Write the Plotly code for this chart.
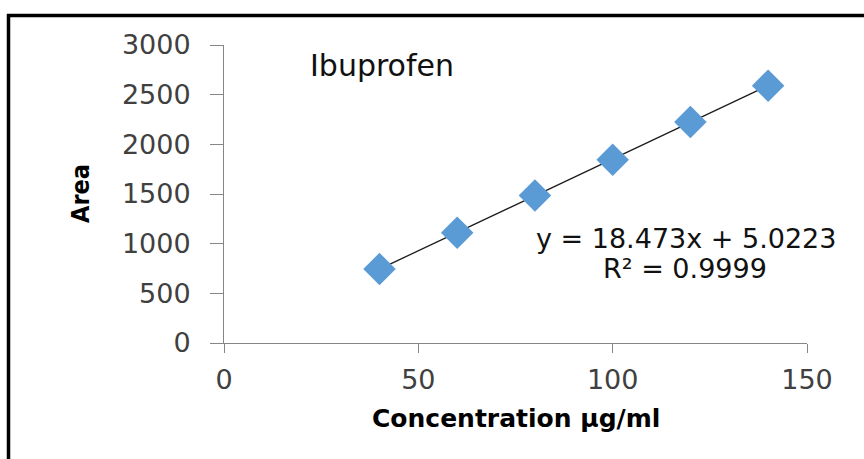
import plotly.graph_objects as go

# Data
concentration = [40, 60, 80, 100, 120, 140]
area = [745, 1110, 1485, 1845, 2225, 2590]
slope = 18.473
intercept = 5.0223
r_squared = 0.9999
x_ticks = [0, 50, 100, 150]
y_ticks = [0, 500, 1000, 1500, 2000, 2500, 3000]

W, H = 864, 459
L, R, T, B = 224, 57, 45, 116
pw, ph = W - L - R, H - T - B

def px(x):
    return (x - L) / pw

def py(y):
    return (H - B - y) / ph

fit_x = [min(concentration), max(concentration)]
fit_y = [slope * v + intercept for v in fit_x]

fig = go.Figure()
fig.add_trace(go.Scatter(x=fit_x, y=fit_y, mode="lines",
                         line=dict(color="#1a1a1a", width=1.3),
                         hoverinfo="skip", showlegend=False))
fig.add_trace(go.Scatter(x=concentration, y=area, mode="markers",
                         marker=dict(symbol="diamond", size=25, color="#5B9BD5",
                                     line=dict(width=0)),
                         showlegend=False))

axis_col = "#868686"
tick_font = dict(family="DejaVu Sans", size=27, color="#404040")
fig.update_xaxes(range=[0, 150], tickvals=x_ticks, showline=True, linecolor=axis_col,
                 linewidth=1, ticks="outside", ticklen=9, tickcolor=axis_col,
                 showgrid=False, zeroline=False, tickfont=tick_font,
                 ticklabelstandoff=4)
fig.update_yaxes(range=[0, 3000], tickvals=y_ticks, showline=True, linecolor=axis_col,
                 linewidth=1, ticks="outside", ticklen=13, tickcolor=axis_col,
                 showgrid=False, zeroline=False, tickfont=tick_font,
                 ticklabelstandoff=14)

anns = [
    dict(text="Ibuprofen", x=px(382), y=py(66), font=dict(family="DejaVu Sans", size=30, color="#111111")),
    dict(text=f"y = {slope}x + {intercept}", x=px(686), y=py(238), font=dict(family="DejaVu Sans", size=27, color="#111111")),
    dict(text=f"R² = {r_squared}", x=px(685), y=py(268), font=dict(family="DejaVu Sans", size=27, color="#111111")),
    dict(text="<b>Concentration µg/ml</b>", x=px(516), y=py(418), font=dict(family="DejaVu Sans", size=25, color="#000000")),
    dict(text="<b>Area</b>", x=px(80), y=py(194), textangle=-90, font=dict(family="Liberation Sans Narrow, DejaVu Sans Condensed", size=25, color="#000000")),
]
for a in anns:
    a.update(xref="paper", yref="paper", showarrow=False, xanchor="center", yanchor="middle")
    fig.add_annotation(**a)

# Frame (top and left border)
fig.add_shape(type="line", xref="paper", yref="paper", x0=px(7), x1=px(864), y0=py(15.5), y1=py(15.5),
              line=dict(color="black", width=3.5))
fig.add_shape(type="line", xref="paper", yref="paper", x0=px(8.5), x1=px(8.5), y0=py(14), y1=py(459),
              line=dict(color="black", width=3.5))

fig.update_layout(width=W, height=H, margin=dict(l=L, r=R, t=T, b=B),
                  plot_bgcolor="white", paper_bgcolor="white")

fig.write_html("out.html")
